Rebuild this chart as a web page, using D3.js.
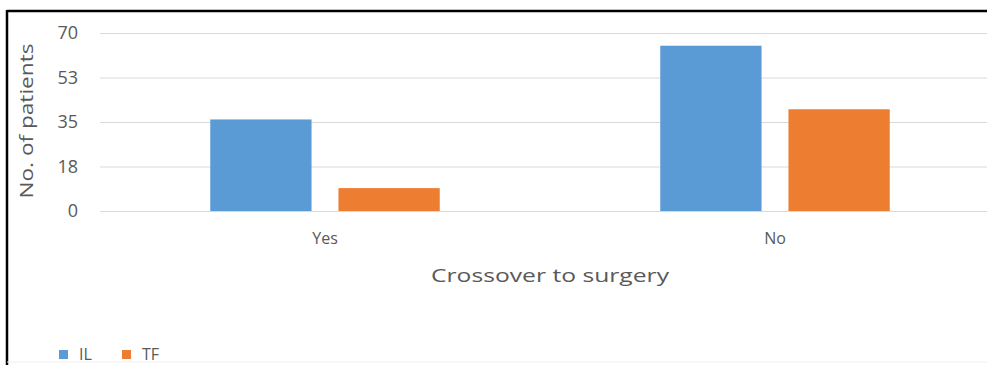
<!DOCTYPE html>
<html>
<head>
<meta charset="utf-8">
<script src="https://cdn.jsdelivr.net/npm/d3@7"></script>
<style>
    body { margin: 0; background: #fff; }
    svg { display: block; }
    text { font-family: "Open Sans", "Noto Sans", sans-serif; fill: #595959; }
</style>
</head>
<body>
<svg id="chart" width="987" height="365"></svg>
<script>
// Chart data
var categories = ["Yes", "No"];
var seriesNames = ["IL", "TF"];
var ilValues = [36, 65];
var tfValues = [9, 40];
var yTickValues = [0, 17.5, 35, 52.5, 70];
var yTickLabels = ["0", "18", "35", "53", "70"];
var seriesColors = ["#5b9bd5", "#ed7d31"];

var svg = d3.select("#chart");

var plotLeft = 100,
    plotRight = 1000,
    plotTop = 33,
    plotBottom = 211;

// frame round the chart
svg.append("line").attr("x1", 7).attr("x2", 987).attr("y1", 11).attr("y2", 11)
    .attr("stroke", "#000").attr("stroke-width", 2.5);
svg.append("line").attr("x1", 7).attr("x2", 7).attr("y1", 10).attr("y2", 365)
    .attr("stroke", "#000").attr("stroke-width", 2.5);
svg.append("line").attr("x1", 7).attr("x2", 987).attr("y1", 362).attr("y2", 362)
    .attr("stroke", "#f0f0f0").attr("stroke-width", 1);

// scales
var yScale = d3.scaleLinear().domain([0, 70]).range([plotBottom, plotTop]);
var x0 = d3.scaleBand().domain(categories).range([plotLeft, plotRight])
    .paddingInner(0.49).paddingOuter(0.245);
var x1 = d3.scaleBand().domain(seriesNames).range([0, x0.bandwidth()])
    .paddingInner(0.21);

// gridlines + y labels
var yAxis = d3.axisLeft(yScale)
    .tickValues(yTickValues)
    .tickSize(-(plotRight - plotLeft))
    .tickPadding(22)
    .tickFormat(function (d, i) { return yTickLabels[i]; });

var gY = svg.append("g").attr("transform", "translate(" + plotLeft + ",0)").call(yAxis);
gY.select(".domain").remove();
gY.selectAll(".tick line").attr("stroke", "#d9d9d9").attr("stroke-width", 1.2);
gY.selectAll(".tick text").attr("font-size", 18).attr("fill", "#595959")
    .style("font-family", "'Open Sans', sans-serif");

// bars
var rows = categories.map(function (c, i) {
    return { cat: c, values: [ilValues[i], tfValues[i]] };
});

var groups = svg.append("g").selectAll("g")
    .data(rows)
    .enter()
    .append("g")
    .attr("transform", function (d) { return "translate(" + x0(d.cat) + ",0)"; });

groups.selectAll("rect")
    .data(function (d) {
        return d.values.map(function (v, j) { return { name: seriesNames[j], value: v, color: seriesColors[j] }; });
    })
    .enter()
    .append("rect")
    .attr("x", function (d) { return x1(d.name); })
    .attr("y", function (d) { return yScale(d.value); })
    .attr("width", x1.bandwidth())
    .attr("height", function (d) { return plotBottom - yScale(d.value); })
    .attr("fill", function (d) { return d.color; });

// category labels
var xAxis = d3.axisBottom(x0).tickSize(0).tickPadding(22);
var gX = svg.append("g").attr("transform", "translate(0," + plotBottom + ")").call(xAxis);
gX.select(".domain").remove();
gX.selectAll(".tick text").attr("font-size", 16).attr("fill", "#595959")
    .style("font-family", "'Open Sans', sans-serif");

// axis titles
svg.append("text")
    .attr("x", (plotLeft + plotRight) / 2)
    .attr("y", 282)
    .attr("text-anchor", "middle")
    .attr("font-size", 19)
    .attr("textLength", 238)
    .attr("lengthAdjust", "spacingAndGlyphs")
    .text("Crossover to surgery");

svg.append("text")
    .attr("transform", "translate(33," + ((plotTop + plotBottom) / 2 - 1) + ") rotate(-90)")
    .attr("text-anchor", "middle")
    .attr("font-size", 18)
    .attr("textLength", 155)
    .attr("lengthAdjust", "spacingAndGlyphs")
    .text("No. of patients");

// legend
var legend = svg.append("g").selectAll("g")
    .data(seriesNames)
    .enter()
    .append("g")
    .attr("transform", function (d, i) { return "translate(" + (59 + i * 63) + ",350)"; });

legend.append("rect")
    .attr("width", 9)
    .attr("height", 9)
    .attr("fill", function (d, i) { return seriesColors[i]; });

legend.append("text")
    .attr("x", 20)
    .attr("y", 10)
    .attr("font-size", 16)
    .text(function (d) { return d; });
</script>
</body>
</html>
